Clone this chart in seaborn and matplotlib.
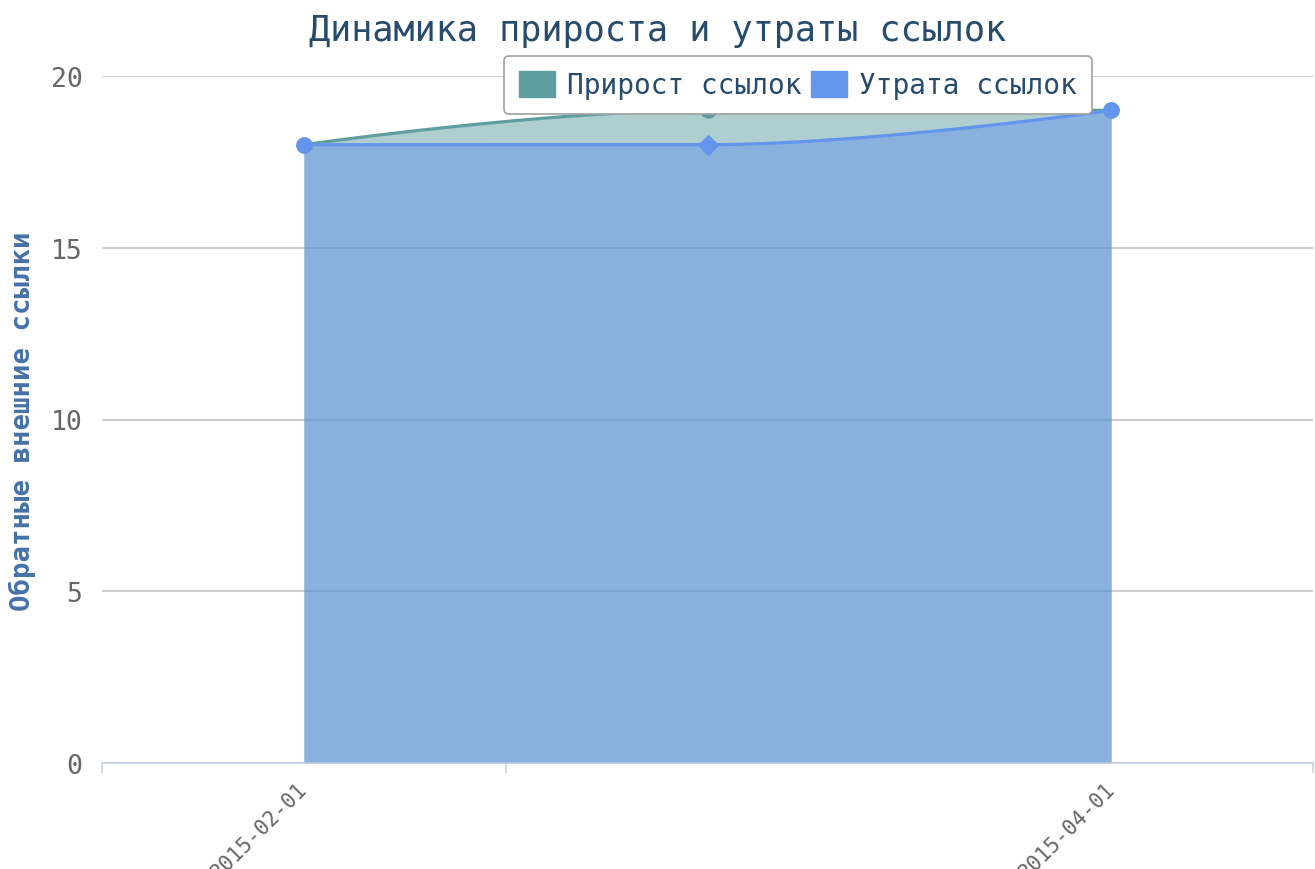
import numpy as np
import pandas as pd
import matplotlib
matplotlib.use("Agg")
import matplotlib.pyplot as plt
import matplotlib.transforms as mtransforms
from matplotlib.patches import Patch
import seaborn as sns

# Chart data
dates = ["2015-02-01", "2015-03-01", "2015-04-01"]
tick_labels = ["2015-02-01", "", "2015-04-01"]
gain = [18, 19, 19]     # Прирост ссылок
loss = [18, 18, 19]     # Утрата ссылок

series_names = ["Прирост ссылок", "Утрата ссылок"]
series_colors = ["#5F9EA0", "#6495ED"]

TITLE = "Динамика прироста и утраты ссылок"
Y_TITLE = "Обратные внешние ссылки"

sns.set_theme(style="white")
plt.rcParams["font.family"] = ["DejaVu Sans Mono", "DejaVu Sans"]


def spline_curve(xs, ys, smoothing=1.5, steps=80):
    """Smooth cubic Bezier path through the points (areaspline style)."""
    xs = np.asarray(xs, float)
    ys = np.asarray(ys, float)
    n = len(xs)
    denom = smoothing + 1
    left = [(x, y) for x, y in zip(xs, ys)]
    right = [(x, y) for x, y in zip(xs, ys)]
    for i in range(1, n - 1):
        px, py = xs[i], ys[i]
        lx, ly = xs[i - 1], ys[i - 1]
        nx, ny = xs[i + 1], ys[i + 1]
        lcx = (smoothing * px + lx) / denom
        lcy = (smoothing * py + ly) / denom
        rcx = (smoothing * px + nx) / denom
        rcy = (smoothing * py + ny) / denom
        corr = 0.0
        if rcx != lcx:
            corr = (rcy - lcy) * (rcx - px) / (rcx - lcx) + py - rcy
        lcy += corr
        rcy += corr
        if lcy > ly and lcy > py:
            lcy = max(ly, py); rcy = 2 * py - lcy
        elif lcy < ly and lcy < py:
            lcy = min(ly, py); rcy = 2 * py - lcy
        if rcy > ny and rcy > py:
            rcy = max(ny, py); lcy = 2 * py - rcy
        elif rcy < ny and rcy < py:
            rcy = min(ny, py); lcy = 2 * py - rcy
        left[i] = (lcx, lcy)
        right[i] = (rcx, rcy)
    t = np.linspace(0, 1, steps)[:, None]
    pts = []
    for i in range(1, n):
        p0 = np.array([xs[i - 1], ys[i - 1]])
        c1 = np.array(right[i - 1])
        c2 = np.array(left[i])
        p3 = np.array([xs[i], ys[i]])
        seg = ((1 - t) ** 3) * p0 + 3 * ((1 - t) ** 2) * t * c1 + 3 * (1 - t) * t ** 2 * c2 + t ** 3 * p3
        pts.append(seg if i == 1 else seg[1:])
    pts = np.vstack(pts)
    return pts[:, 0], pts[:, 1]


W, H = 1315, 870
fig = plt.figure(figsize=(W / 100, H / 100), dpi=100)
ax = fig.add_axes([102 / W, 106 / H, 1211 / W, 687 / H])

x_idx = np.arange(len(dates))

# Areas and spline lines
for vals, name, col in zip([gain, loss], series_names, series_colors):
    cx, cy = spline_curve(x_idx, vals)
    df = pd.DataFrame({"x": cx, "y": cy})
    ax.fill_between(cx, 0, cy, color=col, alpha=0.5, linewidth=0, zorder=2)
    sns.lineplot(data=df, x="x", y="y", sort=False, color=col, linewidth=2.3,
                 ax=ax, zorder=3, legend=False)

# Point markers
pts_gain = pd.DataFrame({"x": x_idx, "y": gain})
pts_loss = pd.DataFrame({"x": x_idx, "y": loss})
sns.scatterplot(data=pts_gain, x="x", y="y", color=series_colors[0], s=140,
                marker="o", linewidth=0, ax=ax, zorder=4, legend=False)
sns.scatterplot(data=pts_loss.iloc[[0, 2]], x="x", y="y", color=series_colors[1], s=140,
                marker="o", linewidth=0, ax=ax, zorder=5, legend=False)
sns.scatterplot(data=pts_loss.iloc[[1]], x="x", y="y", color=series_colors[1], s=120,
                marker="D", linewidth=0, ax=ax, zorder=5, legend=False)

# Axes styling
ax.set_xlim(-0.5, len(dates) - 0.5)
ax.set_ylim(0, 20)
ax.set_yticks([0, 5, 10, 15, 20])
ax.set_yticklabels(["0", "5", "10", "15", "20"])
ax.set_xticks(x_idx)
ax.set_xticklabels(tick_labels, rotation=45, ha="right", va="center",
                   rotation_mode="anchor")
shift = mtransforms.ScaledTranslation(5 / 100, 0, fig.dpi_scale_trans)
for lbl in ax.get_xticklabels():
    lbl.set_transform(lbl.get_transform() + shift)
ax.set_xticks([-0.5, 0.5, 2.5], minor=True)
ax.tick_params(axis="x", which="major", bottom=False, length=0, pad=16,
               labelsize=15, labelcolor="#666666")
ax.tick_params(axis="x", which="minor", bottom=True, length=7, width=1.1,
               color="#C0D0E0", direction="out")
ax.tick_params(axis="y", left=False, length=0, pad=14, labelsize=19, labelcolor="#666666")
ax.set_xlabel("")
ax.set_ylabel("")

ax.grid(axis="y", color="#C0C0C0", linewidth=1.1)
ax.grid(axis="x", visible=False)
ax.set_axisbelow(True)
for side in ["top", "right", "left"]:
    ax.spines[side].set_visible(False)
ax.spines["bottom"].set_color("#C0D0E0")
ax.spines["bottom"].set_linewidth(1.1)
ax.spines["bottom"].set_zorder(6)

# Titles
fig.text(0.5, 1 - 31 / H, TITLE, ha="center", va="center", fontsize=25.3, color="#274b6d")
fig.text(22 / W, 1 - 421 / H, Y_TITLE, rotation=90, ha="center", va="center",
         fontsize=19.7, fontweight="bold", color="#4572A7")

# Legend
handles = [Patch(facecolor=c, edgecolor=c, label=n) for n, c in zip(series_names, series_colors)]
leg = fig.legend(handles=handles, loc="center", bbox_to_anchor=(798 / W, 1 - 86 / H),
                 ncol=2, fontsize=20, frameon=True, fancybox=True, framealpha=1,
                 edgecolor="#A0A0A0", facecolor="white", handlelength=1.3,
                 handleheight=1.05, handletextpad=0.43, columnspacing=0.36,
                 borderpad=0.55)
for txt in leg.get_texts():
    txt.set_color("#274b6d")
leg.get_frame().set_linewidth(1.2)
leg.set_zorder(10)

fig.savefig("out.png", dpi=100, facecolor="white")
